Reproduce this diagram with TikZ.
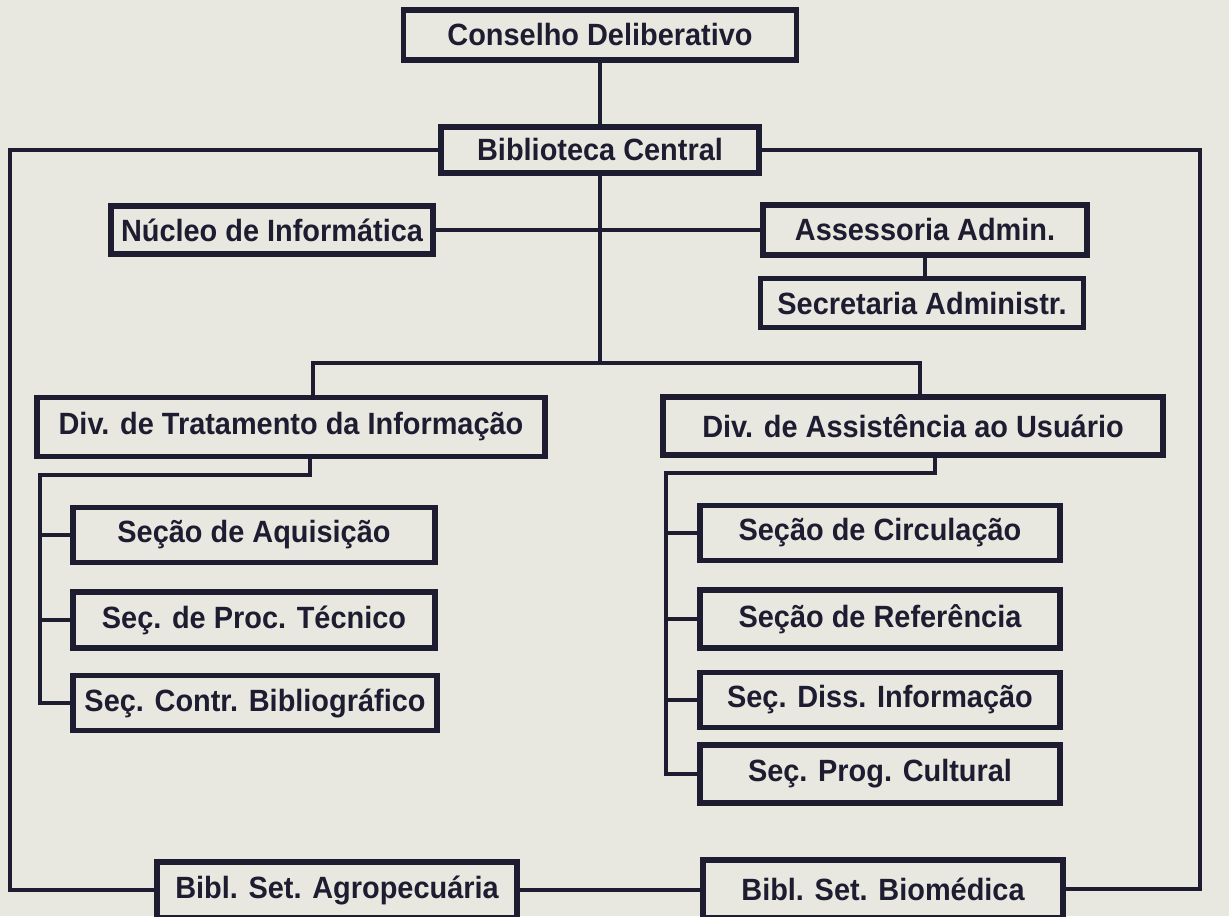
\documentclass[tikz,border=0pt]{standalone}
\usepackage{fontspec}
\newfontfamily\orgfont{Liberation Sans}[FakeStretch=0.94]
\usetikzlibrary{positioning, calc}
\definecolor{ink}{RGB}{30,28,48}
\definecolor{paper}{RGB}{232,232,224}

\tikzset{
    unitbox/.style 2 args={draw=ink, line width=1.1mm, inner sep=0pt,
        minimum width=#1*0.2mm, minimum height=#2*0.2mm,
        font=\orgfont\bfseries\fontsize{17.5}{20}\selectfont, text=ink},
    link/.style={draw=ink, line width=0.8mm}
}

\begin{document}
\begin{tikzpicture}[x=0.2mm, y=-0.2mm, line join=miter]

                \fill[paper] (0,0) rectangle (1229,916);
                \useasboundingbox (0,0) rectangle (1229,916);

                % top of the chart
                \node[unitbox={393}{50}] (cons) at (600,35) {Conselho Deliberativo};
                \node[unitbox={318}{46}] (bib) at (600,150) {Biblioteca Central};
                \node[unitbox={322}{48}] (nucleo) at (272,230) {Núcleo de Informática};
                \node[unitbox={324}{50}] (assess) at (925,230) {Assessoria Admin.};
                \node[unitbox={323}{49}] (secret) at (922,303) {Secretaria Administr.};

                % divisions
                \node[unitbox={508}{59}] (divtrat) at (291,427) {Div. de Tratamento da Informação};
                \node[unitbox={500}{58}] (divassist) at (913,426) {Div. de Assistência ao Usuário};

                \node[unitbox={362}{55}] (aquis) at (254,535) {Seção de Aquisição};
                \node[unitbox={362}{56}] (proctec) at (254,620) {Seç. de Proc. Técnico};
                \node[unitbox={364}{55}] (contr) at (255,703) {Seç. Contr. Bibliográfico};

                \node[unitbox={360}{55}] (circ) at (880,533) {Seção de Circulação};
                \node[unitbox={360}{58}] (refer) at (880,619) {Seção de Referência};
                \node[unitbox={360}{55}] (diss) at (880,700) {Seç. Diss. Informação};
                \node[unitbox={360}{58}] (prog) at (880,774) {Seç. Prog. Cultural};

                % sector libraries
                \node[unitbox={360}{56}] (agro) at (337,890) {Bibl. Set. Agropecuária};
                \node[unitbox={360}{58}] (biomed) at (883,889) {Bibl. Set. Biomédica};

                \coordinate (loopL) at (10,0);
                \coordinate (loopR) at (1200,0);
                \coordinate (splitL) at (313,363);
                \coordinate (splitR) at (920,363);
                \coordinate (dropL) at (310,475);
                \coordinate (trunkL) at (40,475);
                \coordinate (dropR) at (935,473);
                \coordinate (trunkR) at (666,473);

                \draw[link] (cons.south) -- (bib.north);
                \draw[link] (bib.west) -- (bib.west -| loopL) |- (agro.west);
                \draw[link] (agro.east) -- (agro.east -| biomed.west);
                \draw[link] (biomed.east) -- (biomed.east -| loopR) |- (bib.east);
                \draw[link] (nucleo.east) -- (assess.west);
                \draw[link] (assess.south) -- (assess.south |- secret.north);

                \draw[link] (bib.south) -- (bib.south |- splitL);
                \draw[link] (splitL |- divtrat.north) -- (splitL) -- (splitR) -- (splitR |- divassist.north);

                \draw[link] (dropL |- divtrat.south) -- (dropL) -- (trunkL) -- (trunkL |- contr.west) -- (contr.west);
                \foreach \sec in {aquis, proctec}
                    \draw[link] (trunkL |- \sec.west) -- (\sec.west);

                \draw[link] (dropR |- divassist.south) -- (dropR) -- (trunkR) -- (trunkR |- prog.west) -- (prog.west);
                \foreach \sec in {circ, refer, diss}
                    \draw[link] (trunkR |- \sec.west) -- (\sec.west);

\end{tikzpicture}
\end{document}
